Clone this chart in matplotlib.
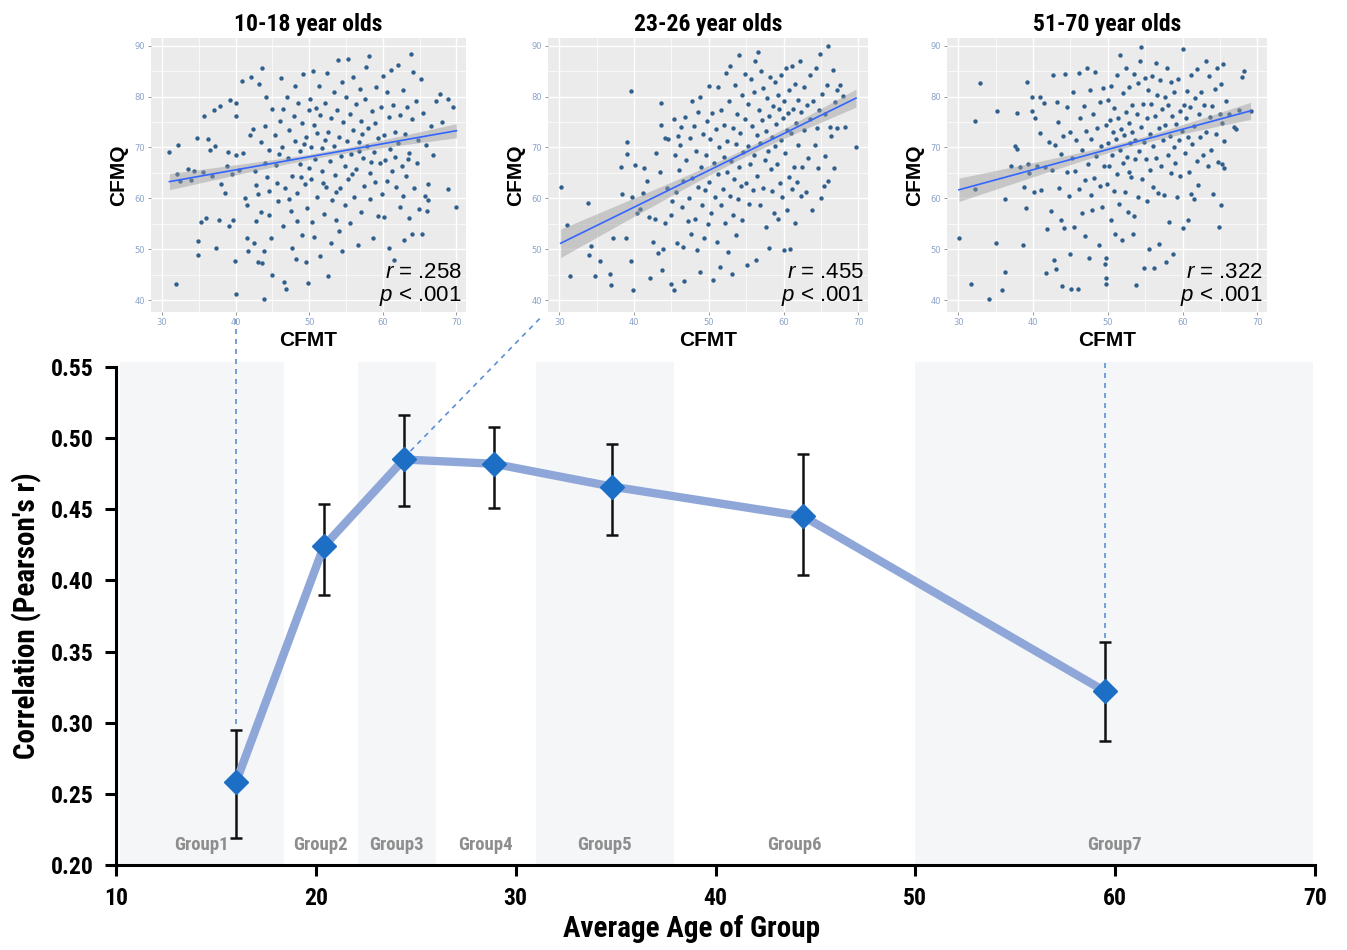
import numpy as np
import matplotlib
matplotlib.use("Agg")
import matplotlib.pyplot as plt
from matplotlib import font_manager as fm

# fonts: a narrow bold face for the Helvetica Condensed look
names = {f.name for f in fm.fontManager.ttflist}
narrow = next((n for n in ['Liberation Sans Narrow', 'Roboto Condensed', 'Open Sans Condensed'] if n in names), 'DejaVu Sans')
plain = 'Liberation Sans' if 'Liberation Sans' in names else 'DejaVu Sans'
plt.rcParams['mathtext.fontset'] = 'custom'
plt.rcParams['mathtext.it'] = plain + ':italic'
plt.rcParams['mathtext.rm'] = plain

# ---- main chart data ----
group_names = ['Group1', 'Group2', 'Group3', 'Group4', 'Group5', 'Group6', 'Group7']
group_age = [16.0, 20.4, 24.4, 28.9, 34.8, 44.4, 59.5]
group_r = [0.258, 0.424, 0.485, 0.482, 0.466, 0.445, 0.322]
group_hi = [0.295, 0.454, 0.516, 0.508, 0.496, 0.489, 0.357]
group_lo = [0.219, 0.390, 0.452, 0.451, 0.432, 0.404, 0.287]
group_edges = [10.2, 18.4, 22.1, 26.0, 31.0, 37.9, 50.0, 69.9]

# ---- inset scatter data (CFMT, CFMQ) ----
young_pts = [
    (31.0, 69.2), (32.2, 70.4), (31.9, 43.1), (32, 64.7), (32.5, 63.4), (33.5, 65.7), (34, 63.6), (34.4, 65.3),
    (34.8, 71.9), (34.9, 51.7), (34.9, 48.9), (35.3, 55.3), (35.5, 65.2), (35.7, 76.1), (36.2, 71.7), (36, 56.1),
    (36.5, 69.5), (36.8, 64.5), (37, 77.3), (37.2, 70.3), (37.3, 50.3), (37.7, 55.8), (37.9, 78.2), (38, 62.9),
    (38.5, 61), (39, 69.1), (39.1, 54.6), (39.3, 79.4), (39.6, 55.8), (40, 76.2), (40.1, 78.7), (39.9, 47.7),
    (40.1, 41.2), (40, 68.5), (40.4, 65.5), (39.5, 64.8), (38.8, 66.3), (40.8, 83.1), (41.0, 69.0), (41.3, 60),
    (41.5, 52.3), (41.5, 58.7), (41.7, 49.6), (42, 72.5), (42.1, 83.9), (42.4, 73.6), (42.6, 65.4), (42.5, 51.3),
    (42.8, 62.7), (42.8, 55.5), (43, 60.8), (43.2, 82.4), (43.4, 71), (43.5, 57.3), (43.6, 85.7), (43.6, 47.4),
    (43.8, 40.3), (44, 74.2), (44, 67), (44.1, 79.9), (44.3, 64.3), (44.5, 61.5), (44.6, 69.5), (44.8, 52.3),
    (44.9, 44.9), (45, 77.5), (44.6, 56.7), (43.9, 49.7), (43.0, 47.6), (45.3, 72.4), (45.5, 66.5), (45.6, 63),
    (45.8, 59.5), (46, 75.2), (46.2, 83.7), (46.3, 70.1), (46.5, 54.5), (46.6, 43.5), (46.7, 62.1), (46.9, 42.3),
    (47, 80), (47.1, 68), (47.3, 73.5), (47.5, 57.5), (47.6, 64.5), (47.7, 50.3), (47.9, 76.2), (48, 82.1),
    (48.1, 71.3), (48.3, 61), (48.4, 55.6), (48.5, 78.7), (48.7, 66.8), (48.8, 69.4), (49, 74.8), (49, 52.8),
    (49.2, 84.5), (49.4, 62.8), (49.5, 72), (49.6, 47.5), (49.7, 58.2), (49.8, 43.3), (49.9, 77.4), (49.9, 66),
    (48.2, 48.1), (46.4, 77.6), (45.9, 68.7), (47.2, 59.8), (48.9, 64.3), (49.3, 70.6), (50.1, 79.5), (50.2, 70.1),
    (50.3, 63.9), (50.4, 55.3), (50.5, 85), (50.6, 74.5), (50.8, 67.7), (51, 60.3), (51.1, 72.9), (51.3, 82.1),
    (51.4, 48.6), (51.5, 76.4), (51.7, 65.3), (51.8, 69.9), (52, 57), (52.1, 78.8), (52.3, 62.3), (52.4, 84.7),
    (52.5, 44.7), (52.6, 73.1), (52.8, 67.3), (52.9, 51.2), (53, 75.8), (53.1, 59.7), (53.3, 80.9), (53.4, 70.3),
    (53.5, 64.6), (53.7, 55.8), (53.8, 77.4), (53.9, 87.2), (54, 72.1), (54.2, 62), (54.3, 68.4), (54.4, 82.9),
    (54.5, 49.6), (54.6, 75), (54.8, 58.8), (54.9, 66.4), (55, 79.9), (55.1, 71.2), (55.2, 87.3), (50.7, 52.5),
    (51.9, 63.1), (53.6, 61.3), (54.1, 53.6), (52.2, 71.5), (50.9, 77.7), (55.3, 63.8), (55.5, 76.5), (55.6, 55.2),
    (55.7, 68.7), (55.9, 83.8), (56, 73.4), (56.1, 60.3), (56.3, 78.6), (56.4, 65.8), (56.6, 50.9), (56.7, 71.1),
    (56.9, 81.4), (57, 57.3), (57.1, 75.2), (57.3, 67.9), (57.4, 62.5), (57.6, 79.6), (57.7, 85.9), (57.8, 70.2),
    (58, 73.8), (58.1, 88), (58.2, 65), (58.3, 59.9), (58.5, 77.1), (58.6, 52.2), (58.8, 69.1), (58.9, 74.9),
    (59, 63.2), (59.1, 81.8), (59.3, 56.6), (59.4, 71.8), (59.6, 66.9), (59.7, 78), (59.9, 60.8), (55.8, 64.8),
    (57.2, 72.6), (56.8, 69.3), (58.4, 67.1), (60, 84), (60.1, 72.5), (60.2, 56.3), (60.3, 67.5), (60.5, 80.8),
    (60.6, 63.5), (60.8, 75.9), (60.9, 50.2), (61, 69.8), (61.1, 85.2), (61.3, 65.4), (61.4, 78.3), (61.5, 47.9),
    (61.7, 73.1), (61.8, 62.3), (62, 70.9), (62.1, 86.2), (62.3, 58.4), (62.4, 76.4), (62.6, 66.3), (62.7, 81.3),
    (62.9, 51.9), (63, 72.7), (63.2, 64.4), (63.3, 77.9), (63.5, 56.1), (63.6, 69), (63.8, 88.3), (63.9, 53),
    (64, 75.5), (64.1, 84.9), (64.3, 62.1), (64.5, 79.2), (64.6, 66.9), (64.8, 71.5), (64.9, 58), (61.6, 68.2),
    (62.8, 60.5), (63.4, 67.8), (65.2, 83.4), (65.3, 53.1), (65.5, 76.8), (65.7, 60.4), (65.9, 70.5), (66.1, 62.9),
    (66.2, 59.6), (66.5, 74.3), (66.8, 68.6), (67.2, 79.1), (67.7, 80.6), (68, 75), (68.8, 61.8), (68.9, 79.6),
    (69.5, 77.9), (70, 58.3), (66, 57.5),
]
adult_pts = [
    (30.2, 62.2), (31, 54.8), (31.5, 44.8), (33.8, 59.1), (34, 48.8), (34.3, 50.6), (34.8, 44.8), (35.5, 47.8),
    (36.8, 45.2), (36.9, 43), (37.2, 52.3), (38.2, 66.2), (38.4, 60.8), (38.9, 52.3), (39.1, 71.1), (39.1, 68.8),
    (39.6, 81.1), (39.6, 47.7), (39.8, 60.2), (39.9, 42.1), (40.2, 66.5), (40.4, 57.1), (40.8, 58), (41.2, 61),
    (41.4, 65.9), (41.7, 63.4), (42, 56.3), (42.1, 44.3), (42.5, 51.5), (42.8, 56), (43, 69), (43.2, 49.2),
    (43.5, 65.2), (43.6, 74.5), (43.6, 78.8), (43.7, 46), (43.9, 50), (44.1, 55.2), (44.2, 71.8), (44.4, 62),
    (44.5, 71.7), (44.9, 43.2), (45, 56.8), (45.1, 59.5), (45.3, 75.5), (45.4, 42), (45.5, 68.5), (45.6, 61.2),
    (45.8, 51.3), (45.9, 72.3), (46, 65.6), (46.2, 70.4), (46.3, 74.1), (46.4, 58.3), (46.5, 63.5), (46.6, 50.4),
    (46.7, 43.7), (46.8, 76), (47, 67.5), (47.2, 55.6), (47.4, 60.1), (47.5, 71.9), (47.6, 53), (47.7, 79.1),
    (47.8, 64.1), (48, 74.3), (48.1, 56), (48.3, 69.3), (48.4, 49.8), (48.5, 62.3), (48.6, 77), (48.8, 80),
    (48.8, 45.5), (48.9, 66.2), (49.1, 58.7), (49.2, 72.6), (49.4, 52.2), (49.5, 61.6), (49.6, 68.6), (49.8, 75.3),
    (49.9, 55), (50, 82), (50.1, 63.3), (50.2, 71.6), (50.3, 57.1), (50.5, 76.8), (50.6, 44), (50.7, 66.9),
    (50.8, 60.2), (51, 73.7), (51.1, 51.4), (51.2, 81.8), (51.3, 64.8), (51.4, 70), (51.5, 46.6), (51.6, 58.8),
    (51.7, 77.4), (51.9, 61.9), (52, 68.2), (52.1, 74.5), (52.2, 55.2), (52.3, 84.6), (52.4, 65.1), (52.5, 71.2),
    (52.6, 49.5), (52.7, 79.2), (52.8, 60.4), (52.9, 86), (53, 67.3), (53.1, 45.1), (53.2, 73.8), (53.3, 56.7),
    (53.4, 63.9), (53.5, 82.3), (53.6, 70.6), (53.7, 52.8), (53.8, 76.6), (53.9, 59.9), (54, 66.2), (54.1, 88.2),
    (54.2, 72.9), (54.3, 62.5), (54.4, 80.3), (54.5, 55.8), (54.6, 69.1), (54.8, 75.6), (54.9, 84.5), (55, 63.1),
    (55.1, 47), (55.2, 78.6), (55.3, 70.3), (55.4, 59), (55.5, 66.8), (55.6, 83.5), (55.8, 74.2), (55.9, 61.6),
    (56, 80.8), (56.1, 68.5), (56.2, 87), (56.3, 48), (56.4, 72.5), (56.5, 64.4), (56.6, 88.8), (56.7, 77.3),
    (56.8, 58.7), (56.9, 70.9), (57, 85.1), (57.1, 75.4), (57.2, 62.1), (57.3, 81.6), (57.5, 67.6), (57.6, 73.3),
    (57.7, 54.3), (57.8, 79.7), (57.9, 69.4), (58, 50.2), (58.1, 76.2), (58.2, 83.8), (58.3, 65.7), (58.4, 72),
    (58.5, 61.4), (58.6, 78.1), (58.7, 57.1), (58.8, 82.9), (58.9, 70.2), (59, 74.7), (59.1, 66.8), (59.2, 80.4),
    (59.3, 56), (59.4, 77.6), (59.5, 63.1), (59.6, 84.3), (59.7, 71.5), (59.8, 60.3), (59.9, 75.7), (60, 49.8),
    (60.1, 79.1), (60.2, 68.9), (60.3, 85.6), (60.4, 73.5), (60.5, 57.8), (60.6, 76.8), (60.7, 64.2), (60.8, 81.2),
    (60.9, 50), (61, 72.9), (61.1, 86.1), (61.2, 61.8), (61.3, 77.5), (61.4, 66.2), (61.5, 82.5), (61.6, 55.2),
    (61.7, 74.9), (61.8, 63.2), (61.9, 79.3), (62, 70.5), (62.2, 86.9), (62.3, 60.5), (62.4, 76.9), (62.5, 66.1),
    (62.7, 81.9), (62.8, 73.4), (63, 61.2), (63.1, 78.3), (63.3, 67.9), (63.5, 84.2), (63.6, 75.6), (63.8, 57.8),
    (64, 79.1), (64.2, 70.5), (64.3, 85.6), (64.5, 73.8), (64.6, 65.9), (64.8, 77.3), (65, 60.1), (64.9, 88.4),
    (65.2, 80.6), (65.4, 62.4), (65.5, 76.5), (65.6, 68.3), (65.8, 82.3), (65.9, 90), (66, 63.5), (66.2, 74.1),
    (66.4, 72.3), (66.6, 85.3), (66.8, 65.9), (66.9, 78.9), (67.1, 81.2), (67.6, 82.3), (68, 80.2), (68.2, 74),
    (69.7, 70.1), (67.2, 73.8),
]
older_pts = [
    (30.1, 52.3), (31.7, 43.2), (32.3, 75.2), (32.9, 82.6), (32.3, 61.8), (34.1, 40.3), (35, 51.3), (35.2, 77.1),
    (35.9, 42.1), (36.2, 45.6), (36.3, 59.8), (37, 66.3), (37.6, 70.2), (37.9, 76.8), (37.9, 69.8), (38.3, 66.2),
    (38.6, 50.9), (38.8, 62.3), (39, 58.1), (39.2, 82.8), (39.3, 66.7), (39.5, 65), (39.9, 79.9), (39.9, 77.2),
    (40.1, 61.3), (40.3, 75.8), (40.6, 66.3), (40.9, 80), (41, 72.8), (41.1, 61.7), (41.5, 78.8), (41.6, 66.1),
    (41.8, 45.4), (41.9, 53.9), (42.2, 71.1), (42.4, 57.6), (42.6, 65.5), (42.7, 84.3), (42.8, 48), (43, 70.5),
    (43.1, 46.2), (43.2, 78.9), (43.3, 75.1), (43.5, 62.1), (43.7, 55.7), (43.8, 68.7), (43.9, 42.8), (44, 72.3),
    (44.1, 54.1), (44.3, 84.4), (44.5, 65.1), (44.6, 77.9), (44.8, 60.4), (44.9, 49.1), (45, 73.1), (45.1, 42.2),
    (45.2, 68), (45.4, 80.8), (45.5, 54.4), (45.6, 65.4), (45.8, 71.4), (46, 42.2), (46.1, 61.9), (46.2, 84.6),
    (46.3, 75.8), (46.5, 57.1), (46.6, 69.6), (46.8, 78.2), (46.9, 63.7), (47, 52.6), (47.1, 73.3), (47.2, 85.6),
    (47.3, 66.8), (47.5, 48.3), (47.6, 81.3), (47.7, 60.7), (47.8, 71.6), (47.9, 57.7), (48, 76.6), (48.2, 64),
    (48.3, 84.8), (48.4, 68.4), (48.6, 73.9), (48.8, 50.8), (48.9, 62.4), (49, 78.9), (49.1, 70.2), (49.2, 58.3),
    (49.4, 81.6), (49.5, 66.3), (49.6, 47.2), (49.7, 74.5), (49.8, 43.2), (49.9, 62.9), (49.8, 44.4), (49.7, 48.3),
    (50, 70.9), (50.1, 79.3), (50.2, 66.4), (50.3, 75.4), (50.4, 55.7), (50.5, 82), (50.6, 68.6), (50.7, 73.1),
    (50.8, 61.4), (50.9, 77.8), (51, 53.1), (51.1, 71.7), (51.2, 84.3), (51.3, 64.7), (51.4, 75.8), (51.5, 58.9),
    (51.6, 69.5), (51.7, 88.1), (51.8, 73.6), (51.9, 51.9), (52, 80.7), (52.1, 66.9), (52.2, 72.4), (52.3, 61.3),
    (52.4, 77), (52.5, 85.6), (52.6, 68.1), (52.7, 57.4), (52.8, 74.8), (52.9, 81.9), (53, 70.9), (53.1, 64.2),
    (53.2, 78.4), (53.3, 73), (53.4, 53), (53.5, 84.5), (53.6, 67.7), (53.7, 71.5), (53.8, 43), (53.9, 76.6),
    (54, 60.2), (54.1, 82.6), (54.2, 69.4), (54.3, 86.9), (54.4, 74.1), (54.5, 89.8), (54.6, 63.9), (54.7, 78.6),
    (54.8, 46.3), (54.9, 71), (55, 83.7), (53.5, 56.5), (52.9, 65.2), (55.1, 67.8), (55.2, 75.8), (55.3, 59.4),
    (55.4, 81.2), (55.5, 50.1), (55.6, 72.7), (55.7, 65.6), (55.8, 78.5), (55.9, 84), (56, 62.3), (56.1, 70.3),
    (56.2, 46.3), (56.3, 76.1), (56.4, 86.6), (56.5, 68), (56.6, 80.4), (56.7, 61.1), (56.8, 73.8), (56.9, 51),
    (57, 83.3), (57.1, 66.4), (57.2, 77.5), (57.4, 71.4), (57.5, 60.7), (57.6, 80), (57.7, 74.5), (57.8, 47.5),
    (57.9, 85.7), (58, 68.6), (58.1, 78.3), (58.2, 55.3), (58.3, 72.2), (58.4, 82.9), (58.5, 64.9), (58.6, 76.1),
    (58.7, 49), (58.8, 70.1), (58.9, 80.9), (59, 66.9), (59.1, 74.7), (59.3, 60.3), (59.4, 83.4), (59.5, 71.4),
    (59.6, 77.1), (59.7, 64.5), (59.9, 73.3), (60, 89.3), (60.1, 54.2), (60.2, 78.3), (60.3, 68.9), (60.4, 75.7),
    (60.6, 81.1), (60.7, 72), (60.8, 55.8), (60.9, 65.2), (61, 77.9), (61.1, 60.9), (61.2, 84.2), (61.3, 70.7),
    (61.5, 74.3), (61.6, 59.9), (61.7, 79.7), (61.9, 67.3), (62, 85.4), (62.1, 62.6), (62.2, 76.5), (62.4, 72.1),
    (62.5, 80.9), (62.7, 68.6), (62.9, 78.4), (63.1, 86.9), (63.2, 73.1), (63.4, 66.3), (63.5, 84.1), (63.7, 75.9),
    (63.8, 69.5), (64, 78.2), (64.1, 60.8), (64.3, 81.5), (64.5, 72.7), (64.6, 85.6), (64.8, 67.2), (64.9, 54.3),
    (65, 76.6), (65.1, 58.8), (65.2, 82.4), (65.3, 74.8), (65.4, 86.4), (65.5, 65.9), (65.6, 71.3), (65.8, 79.2),
    (66.2, 76.6), (66.9, 74.1), (67.1, 73.6), (67.5, 77.3), (67.9, 83.9), (68.2, 85), (69.1, 77.2), (65.3, 66.8),
]

inset_titles = ['10-18 year olds', '23-26 year olds', '51-70 year olds']
inset_r = ['.258', '.455', '.322']
# regression line ends (x0, x1, y0, y1) and CI half-width at left end / minimum
fit_x = [(31.0, 70.0), (30.2, 69.7), (30.1, 69.1)]
fit_y = [(63.3, 73.3), (51.2, 79.7), (61.7, 77.2)]
ci_left = [1.6, 2.8, 2.3]
ci_min = [0.5, 0.8, 0.6]
ci_center = [52.0, 55.0, 53.0]

W, H = 1347, 950
fig = plt.figure(figsize=(W / 100, H / 100), dpi=100)

# ---- main axes ----
ax = fig.add_axes([116 / W, 1 - 865 / H, 1199 / W, 498 / H])
ax.set_xlim(10, 70)
ax.set_ylim(0.20, 0.55)
for i in range(0, 7, 2):
    ax.axvspan(group_edges[i], group_edges[i + 1], ymin=0, ymax=1.01, color='#f4f6f8', lw=0, zorder=0, clip_on=False)
for i, name in enumerate(group_names):
    cx = (group_edges[i] + group_edges[i + 1]) / 2
    ax.text(cx, 0.214, name, ha='center', va='center', color='#8e8e8e', fontsize=13.5,
            fontweight='bold', family=narrow, zorder=1)

err = [np.array(group_r) - np.array(group_lo), np.array(group_hi) - np.array(group_r)]
ax.errorbar(group_age, group_r, yerr=err, fmt='none', ecolor='#111111', elinewidth=1.8, capsize=4, capthick=1.8, zorder=3)
ax.plot(group_age, group_r, color='#8ea7d8', lw=6, solid_capstyle='round', zorder=4)
ax.plot(group_age, group_r, ls='none', marker='D', ms=12, color='#1d6fc6', mec='#1d6fc6', zorder=5)

for s in ['top', 'right']:
    ax.spines[s].set_visible(False)
for s in ['left', 'bottom']:
    ax.spines[s].set_linewidth(2.2)
ax.set_xticks(range(10, 71, 10))
ax.set_yticks(np.arange(0.20, 0.551, 0.05))
ax.set_yticklabels(['%.2f' % v for v in np.arange(0.20, 0.551, 0.05)])
ax.tick_params(direction='out', length=8, width=2.2, labelsize=17, pad=8)
for lab in ax.get_xticklabels() + ax.get_yticklabels():
    lab.set_fontweight('bold')
    lab.set_family(narrow)
ax.set_xlabel('Average Age of Group', fontsize=21, fontweight='bold', family=narrow)
ax.set_ylabel("Correlation (Pearson's r)", fontsize=21, fontweight='bold', family=narrow)
ax.xaxis.set_label_coords(0.48, -0.1)
ax.yaxis.set_label_coords(-0.062, 0.5)
ax.set_facecolor('white')

# ---- insets ----
inset_boxes = [(151, 466), (548, 868), (947, 1267)]
all_pts = [young_pts, adult_pts, older_pts]
for k in range(3):
    x0, x1 = inset_boxes[k]
    ia = fig.add_axes([x0 / W, 1 - 312 / H, (x1 - x0) / W, 274 / H])
    ia.set_facecolor('#ebebeb')
    ia.set_xlim(28.5, 71.3)
    ia.set_ylim(37.7, 91.5)
    ia.set_xticks(range(30, 71, 10))
    ia.set_yticks(range(40, 91, 10))
    ia.set_xticks(range(35, 70, 10), minor=True)
    ia.set_yticks(range(45, 90, 10), minor=True)
    ia.grid(which='major', color='white', lw=1.0)
    ia.grid(which='minor', color='white', lw=0.5)
    ia.set_axisbelow(True)
    for s in ia.spines.values():
        s.set_visible(False)
    ia.tick_params(which='major', length=2.5, width=0.6, color='#888888', labelsize=6,
                   labelcolor='#8aa3c8', pad=2)
    ia.tick_params(which='minor', length=0)

    xs = np.array([p[0] for p in all_pts[k]])
    ys = np.array([p[1] for p in all_pts[k]])
    ia.scatter(xs, ys, s=10, color='#2f5f8c', lw=0, zorder=2)

    fx = np.linspace(fit_x[k][0], fit_x[k][1], 100)
    slope = (fit_y[k][1] - fit_y[k][0]) / (fit_x[k][1] - fit_x[k][0])
    fy = fit_y[k][0] + slope * (fx - fit_x[k][0])
    kk = (ci_left[k] ** 2 - ci_min[k] ** 2) / (fit_x[k][0] - ci_center[k]) ** 2
    half = np.sqrt(ci_min[k] ** 2 + kk * (fx - ci_center[k]) ** 2)
    ia.fill_between(fx, fy - half, fy + half, color='#9a9a9a', alpha=0.45, lw=0, zorder=3)
    ia.plot(fx, fy, color='#3366ff', lw=1.2, zorder=4)

    ia.set_title(inset_titles[k], fontsize=17, fontweight='bold', family=narrow, pad=5)
    ia.set_xlabel('CFMT', fontsize=15, fontweight='bold', family=plain, labelpad=3)
    ia.set_ylabel('CFMQ', fontsize=15, fontweight='bold', family=plain, labelpad=4)
    ia.text(0.987, 0.125, r'$\it{r}$ = ' + inset_r[k], transform=ia.transAxes, ha='right',
            va='baseline', fontsize=16, family=plain)
    ia.text(0.987, 0.04, r'$\it{p}$ < .001', transform=ia.transAxes, ha='right',
            va='baseline', fontsize=16, family=plain)

# ---- dashed connectors from insets to their groups ----
dash = dict(color='#5b8fd6', lw=1.2, ls=(0, (3, 3)), clip_on=False, zorder=6)
top_y = 0.584
ax.plot([group_age[0], group_age[0]], [top_y, group_hi[0] + 0.004], **dash)
ax.plot([31.2, group_age[2] + 0.2], [top_y, group_r[2] + 0.004], **dash)
ax.plot([group_age[6], group_age[6]], [0.553, group_hi[6] + 0.002], **dash)

fig.savefig('out.png', dpi=100)
